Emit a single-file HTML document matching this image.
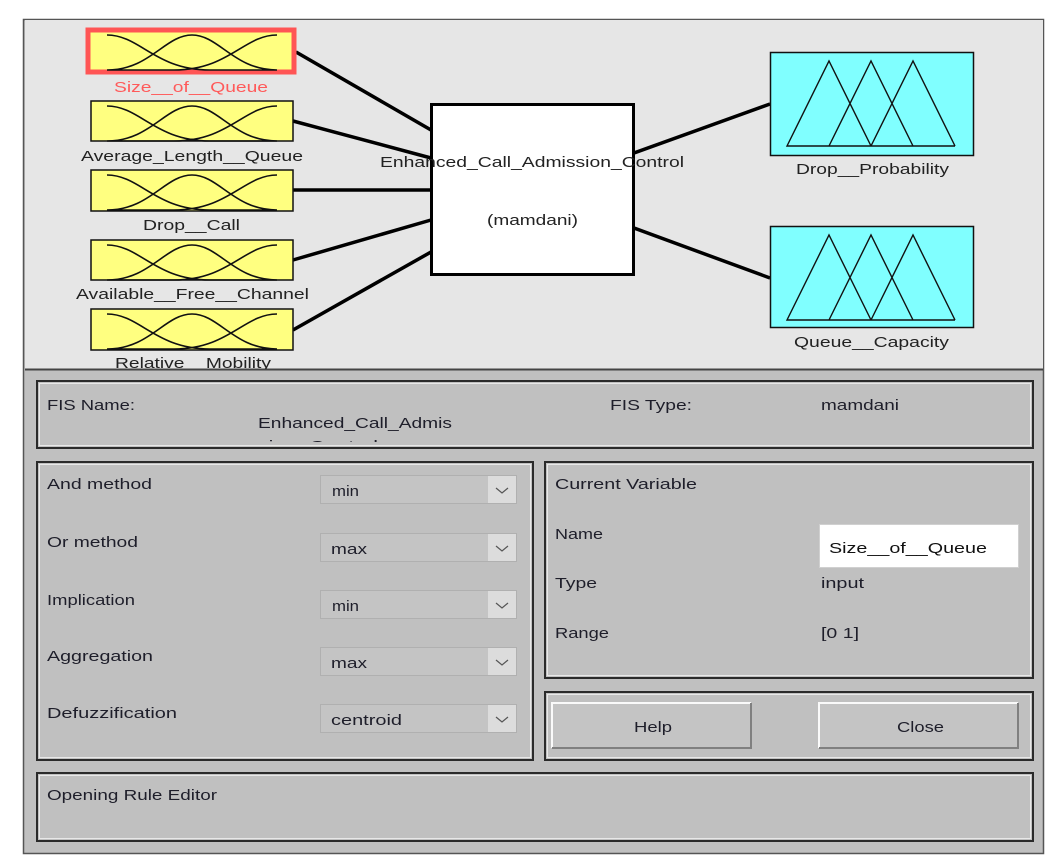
<!DOCTYPE html>
<html><head><meta charset="utf-8"><style>
html,body{margin:0;padding:0;background:#fff;width:1059px;height:864px;overflow:hidden}
svg{display:block}
text{font-family:"Liberation Sans",sans-serif}
</style></head><body>
<svg width="1059" height="864" viewBox="0 0 1059 864" xmlns="http://www.w3.org/2000/svg">
<rect x="23.5" y="19.5" width="1020" height="834" fill="#c0c0c0" stroke="#555" stroke-width="1.5"/>
<rect x="25" y="20" width="1018" height="349" fill="#e6e6e6"/>
<line x1="25" y1="369.5" x2="1043" y2="369.5" stroke="#444" stroke-width="2"/>

<defs>
<g id="g">
<path d="M15,5 C48,5 63,40 118,40 L185,40 M15,40 C58,40 73,5 100,5 C127,5 142,40 185,40 M15,40 L82,40 C137,40 152,5 185,5" fill="none" stroke="#111" stroke-width="1.6"/>
</g>
<g id="t">
<path d="M17,94 L59,9 L101,94 Z M59,94 L101,9 L143,94 M101,94 L143,9 L185,94 M17,94 L185,94" fill="none" stroke="#111" stroke-width="1.4"/>
</g>
</defs>

<g stroke="#000" stroke-width="3.5" fill="none">
<line x1="296" y1="52" x2="431" y2="130"/>
<line x1="293" y1="121" x2="431" y2="158"/>
<line x1="293" y1="190" x2="431" y2="190"/>
<line x1="293" y1="260" x2="431" y2="220"/>
<line x1="293" y1="330" x2="431" y2="252"/>
<line x1="634" y1="153" x2="770" y2="104"/>
<line x1="634" y1="228" x2="770" y2="278"/>
</g>

<rect x="88" y="30" width="206" height="42" fill="#ffff80" stroke="#ff5555" stroke-width="5"/>
<g transform="translate(92,30)"><use href="#g"/></g>
<rect x="91" y="101" width="202" height="40" fill="#ffff80" stroke="#111" stroke-width="1.5"/>
<g transform="translate(92,101)"><use href="#g"/></g>
<rect x="91" y="170" width="202" height="41" fill="#ffff80" stroke="#111" stroke-width="1.5"/>
<g transform="translate(92,170)"><use href="#g"/></g>
<rect x="91" y="240" width="202" height="40" fill="#ffff80" stroke="#111" stroke-width="1.5"/>
<g transform="translate(92,240)"><use href="#g"/></g>
<rect x="91" y="309" width="202" height="41" fill="#ffff80" stroke="#111" stroke-width="1.5"/>
<g transform="translate(92,309)"><use href="#g"/></g>

<g font-size="15" fill="#222">
<text x="114" y="92" fill="#ff5a5a" textLength="154" lengthAdjust="spacingAndGlyphs">Size__of__Queue</text>
<text x="81" y="161" textLength="222" lengthAdjust="spacingAndGlyphs">Average_Length__Queue</text>
<text x="143" y="230" textLength="97" lengthAdjust="spacingAndGlyphs">Drop__Call</text>
<text x="76" y="299" textLength="233" lengthAdjust="spacingAndGlyphs">Available__Free__Channel</text>
</g>
<svg x="25" y="350" width="400" height="19" overflow="hidden"><text x="90" y="18" font-size="15" fill="#222" textLength="156" lengthAdjust="spacingAndGlyphs">Relative__Mobility</text></svg>

<rect x="431.5" y="104.5" width="202" height="170" fill="#fff" stroke="#000" stroke-width="3"/>
<text x="380" y="167" font-size="15" fill="#222" textLength="304" lengthAdjust="spacingAndGlyphs">Enhanced_Call_Admission_Control</text>
<text x="487" y="225" font-size="15" fill="#222" textLength="91" lengthAdjust="spacingAndGlyphs">(mamdani)</text>

<rect x="770.5" y="52.5" width="203" height="103" fill="#80ffff" stroke="#111" stroke-width="1.5"/>
<g transform="translate(770,52)"><use href="#t"/></g>
<rect x="770.5" y="226.5" width="203" height="101" fill="#80ffff" stroke="#111" stroke-width="1.5"/>
<g transform="translate(770,226)"><use href="#t"/></g>
<text x="796" y="174" font-size="15" fill="#222" textLength="153" lengthAdjust="spacingAndGlyphs">Drop__Probability</text>
<text x="794" y="347" font-size="15" fill="#222" textLength="155" lengthAdjust="spacingAndGlyphs">Queue__Capacity</text>

<g fill="none" stroke="#2a2a2a" stroke-width="2">
<rect x="37" y="381" width="996" height="67"/>
<rect x="37" y="462" width="496" height="298"/>
<rect x="545" y="462" width="488" height="216"/>
<rect x="545" y="692" width="488" height="68"/>
<rect x="37" y="773" width="996" height="68"/>
</g>
<g fill="none" stroke="#e8e8e8" stroke-width="1">
<rect x="39.5" y="383.5" width="991" height="62"/>
<rect x="39.5" y="464.5" width="491" height="293"/>
<rect x="547.5" y="464.5" width="483" height="211"/>
<rect x="547.5" y="694.5" width="483" height="63"/>
<rect x="39.5" y="775.5" width="991" height="63"/>
</g>

<g font-size="15" fill="#1e1e2a">
<text x="47" y="410" textLength="88" lengthAdjust="spacingAndGlyphs">FIS Name:</text>
<text x="258" y="428" textLength="194" lengthAdjust="spacingAndGlyphs">Enhanced_Call_Admis</text>
<text x="610" y="410" textLength="82" lengthAdjust="spacingAndGlyphs">FIS Type:</text>
<text x="821" y="410" textLength="78" lengthAdjust="spacingAndGlyphs">mamdani</text>
<text x="47" y="489" textLength="105" lengthAdjust="spacingAndGlyphs">And method</text>
<text x="47" y="547" textLength="91" lengthAdjust="spacingAndGlyphs">Or method</text>
<text x="47" y="605" textLength="88" lengthAdjust="spacingAndGlyphs">Implication</text>
<text x="47" y="661" textLength="106" lengthAdjust="spacingAndGlyphs">Aggregation</text>
<text x="47" y="718" textLength="130" lengthAdjust="spacingAndGlyphs">Defuzzification</text>
<text x="555" y="489" textLength="142" lengthAdjust="spacingAndGlyphs">Current Variable</text>
<text x="555" y="539" textLength="48" lengthAdjust="spacingAndGlyphs">Name</text>
<text x="555" y="588" textLength="42" lengthAdjust="spacingAndGlyphs">Type</text>
<text x="821" y="588" textLength="43" lengthAdjust="spacingAndGlyphs">input</text>
<text x="555" y="638" textLength="54" lengthAdjust="spacingAndGlyphs">Range</text>
<text x="821" y="638" textLength="38" lengthAdjust="spacingAndGlyphs">[0 1]</text>
<text x="47" y="800" textLength="170" lengthAdjust="spacingAndGlyphs">Opening Rule Editor</text>
</g>
<svg x="250" y="434" width="220" height="8" overflow="hidden"><text x="8" y="17" font-size="15" fill="#1e1e2a" textLength="120" lengthAdjust="spacingAndGlyphs">sion_Control</text></svg>

<g font-size="15" fill="#1e1e2a">
<g>
<rect x="320.5" y="475.5" width="196" height="28" fill="#c4c4c4" stroke="#b0b0b0"/>
<rect x="488" y="476" width="28" height="27" fill="#dcdcdc"/>
<path d="M496,488 L502,493 L508,488" fill="none" stroke="#555" stroke-width="1.2"/>
<text x="332" y="496" textLength="27" lengthAdjust="spacingAndGlyphs">min</text>
</g>
<g transform="translate(0,58)">
<rect x="320.5" y="475.5" width="196" height="28" fill="#c4c4c4" stroke="#b0b0b0"/>
<rect x="488" y="476" width="28" height="27" fill="#dcdcdc"/>
<path d="M496,488 L502,493 L508,488" fill="none" stroke="#555" stroke-width="1.2"/>
<text x="331" y="496" textLength="36" lengthAdjust="spacingAndGlyphs">max</text>
</g>
<g transform="translate(0,115)">
<rect x="320.5" y="475.5" width="196" height="28" fill="#c4c4c4" stroke="#b0b0b0"/>
<rect x="488" y="476" width="28" height="27" fill="#dcdcdc"/>
<path d="M496,488 L502,493 L508,488" fill="none" stroke="#555" stroke-width="1.2"/>
<text x="332" y="496" textLength="27" lengthAdjust="spacingAndGlyphs">min</text>
</g>
<g transform="translate(0,172)">
<rect x="320.5" y="475.5" width="196" height="28" fill="#c4c4c4" stroke="#b0b0b0"/>
<rect x="488" y="476" width="28" height="27" fill="#dcdcdc"/>
<path d="M496,488 L502,493 L508,488" fill="none" stroke="#555" stroke-width="1.2"/>
<text x="331" y="496" textLength="36" lengthAdjust="spacingAndGlyphs">max</text>
</g>
<g transform="translate(0,229)">
<rect x="320.5" y="475.5" width="196" height="28" fill="#c4c4c4" stroke="#b0b0b0"/>
<rect x="488" y="476" width="28" height="27" fill="#dcdcdc"/>
<path d="M496,488 L502,493 L508,488" fill="none" stroke="#555" stroke-width="1.2"/>
<text x="331" y="496" textLength="71" lengthAdjust="spacingAndGlyphs">centroid</text>
</g>
</g>

<rect x="819.5" y="524.5" width="199" height="43" fill="#fff" stroke="#d0d0d0"/>
<text x="829" y="553" font-size="15" fill="#111" textLength="158" lengthAdjust="spacingAndGlyphs">Size__of__Queue</text>

<g>
<rect x="552" y="703" width="199" height="45" fill="#c4c4c4"/>
<path d="M552,748 L552,703 L751,703" fill="none" stroke="#fafafa" stroke-width="2"/>
<path d="M552,748 L751,748 L751,703" fill="none" stroke="#808080" stroke-width="2"/>
<text x="634" y="732" font-size="15" fill="#1e1e2a" textLength="38" lengthAdjust="spacingAndGlyphs">Help</text>
<rect x="819" y="703" width="199" height="45" fill="#c4c4c4"/>
<path d="M819,748 L819,703 L1018,703" fill="none" stroke="#fafafa" stroke-width="2"/>
<path d="M819,748 L1018,748 L1018,703" fill="none" stroke="#808080" stroke-width="2"/>
<text x="897" y="732" font-size="15" fill="#1e1e2a" textLength="47" lengthAdjust="spacingAndGlyphs">Close</text>
</g>
</svg>
</body></html>
